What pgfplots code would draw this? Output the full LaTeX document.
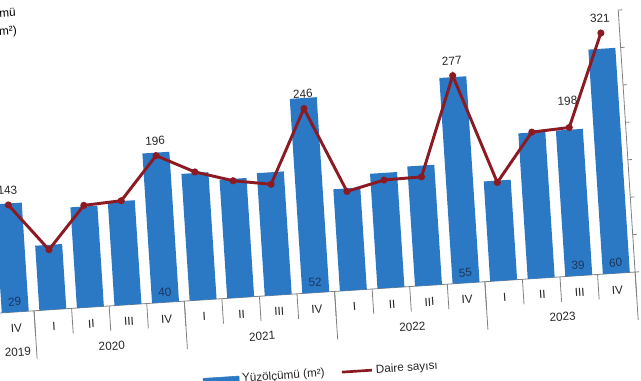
\documentclass[border=0pt]{standalone}
\usepackage{pgfplots}
\pgfplotsset{compat=1.18}
\usepackage{fontspec}
\setmainfont{Liberation Sans}
\definecolor{barblue}{HTML}{2B78C5}
\definecolor{linered}{HTML}{8C1A22}
\definecolor{axgray}{HTML}{808080}
\definecolor{lblnavy}{HTML}{1B365D}
\begin{document}
\fontsize{8.8pt}{10.5pt}\selectfont
\begin{tikzpicture}[x=0.75pt,y=0.75pt]
\useasboundingbox (0,0) rectangle (641,380);
\begin{scope}[transform canvas={rotate around={3.69:(310,87)}}]
\node[anchor=north east, align=right, inner sep=0pt, font=\fontsize{8.8pt}{13.5pt}\selectfont] at (34.5,391) {Yüzölçümü\\(milyon m²)};
\begin{axis}[
  at={(-3.15pt,65.25pt)}, anchor=south west,
  width=480pt, height=196.875pt, scale only axis,
  xmin=-0.5, xmax=16.5, ymin=0, ymax=70,
  axis y line=none,
  axis x line*=bottom,
  axis line style={axgray, line width=0.6pt},
  xtick={0,...,16},
  xticklabels={IV,I,II,III,IV,I,II,III,IV,I,II,III,IV,I,II,III,IV},
  major tick length=0pt,
  minor xtick={-0.5,0.5,...,16.5},
  minor tick length=18.75pt,
  tick align=outside,
  tick style={axgray, line width=0.6pt},
  extra x ticks={0.5,4.5,8.5,12.5,16.5},
  extra x tick labels={},
  extra x tick style={major tick length=36pt},
  xticklabel style={anchor=base, yshift=-15.5pt, text=black!85},
  clip=false,
]
\addplot[ybar, bar width=20.25pt, fill=barblue, draw=none] coordinates {
(0,29) (1,17.3) (2,26.9) (3,27.7) (4,40) (5,33.9) (6,31.7) (7,32.8) (8,52)
(9,27.2) (10,30.7) (11,32) (12,55) (13,26.7) (14,38.9) (15,39) (16,60)};
\addplot[draw=none, mark=none, nodes near coords, point meta=explicit symbolic,
  nodes near coords align={anchor=base},
  every node near coord/.append style={yshift=4.7pt, text=lblnavy, inner sep=0pt}]
  coordinates {(0,0)[29] (4,0)[40] (8,0)[52] (12,0)[55] (15,0)[39] (16,0)[60]};
\node[anchor=base, yshift=-33.15pt, text=black!85] at (axis cs:0,0) {2019};
\node[anchor=base, yshift=-33.15pt, text=black!85] at (axis cs:2.5,0) {2020};
\node[anchor=base, yshift=-33.15pt, text=black!85] at (axis cs:6.5,0) {2021};
\node[anchor=base, yshift=-33.15pt, text=black!85] at (axis cs:10.5,0) {2022};
\node[anchor=base, yshift=-33.15pt, text=black!85] at (axis cs:14.5,0) {2023};
\end{axis}
\begin{axis}[
  at={(-3.15pt,65.25pt)}, anchor=south west,
  width=480pt, height=196.875pt, scale only axis,
  xmin=-0.5, xmax=16.5, ymin=0, ymax=350,
  axis x line=none,
  axis y line*=right,
  axis line style={axgray, line width=0.6pt},
  ytick={0,50,...,350}, yticklabels={},
  tick align=outside, major tick length=3pt,
  tick style={axgray, line width=0.6pt},
  clip=false,
  legend style={at={(0.501,-0.3086)}, anchor=center, draw=none, fill=none,
    legend columns=2, text=black!85,
    /tikz/every even column/.append style={column sep=10pt}},
]
\addlegendimage{legend image code/.code={\fill[barblue] (0pt,-2.5pt) rectangle (27pt,2pt);}}
\addlegendentry{Yüzölçümü (m²)}
\addplot[linered, line width=2.2pt, mark=*, mark size=1.5pt, mark options={fill=linered, draw=linered},
  legend image code/.code={\draw[linered, line width=2pt] (0pt,0pt) -- (22.5pt,0pt);}] coordinates {
(0,143) (1,80) (2,136) (3,139) (4,196) (5,171) (6,156) (7,148) (8,246)
(9,132) (10,144) (11,145) (12,277) (13,131) (14,195) (15,198) (16,321)};
\addlegendentry{Daire sayısı}
\addplot[draw=none, mark=none, nodes near coords, point meta=explicit symbolic,
  nodes near coords align={anchor=base},
  every node near coord/.append style={yshift=8pt, inner sep=0pt, text=black!85}]
  coordinates {(0,143)[143] (4,196)[196] (8,246)[246] (12,277)[277] (16,321)[321]};
\addplot[draw=none, mark=none, nodes near coords, point meta=explicit symbolic,
  nodes near coords align={anchor=base},
  every node near coord/.append style={yshift=17pt, inner sep=0pt, text=black!85}]
  coordinates {(15,198)[198]};
\end{axis}
\end{scope}
\end{tikzpicture}
\end{document}
